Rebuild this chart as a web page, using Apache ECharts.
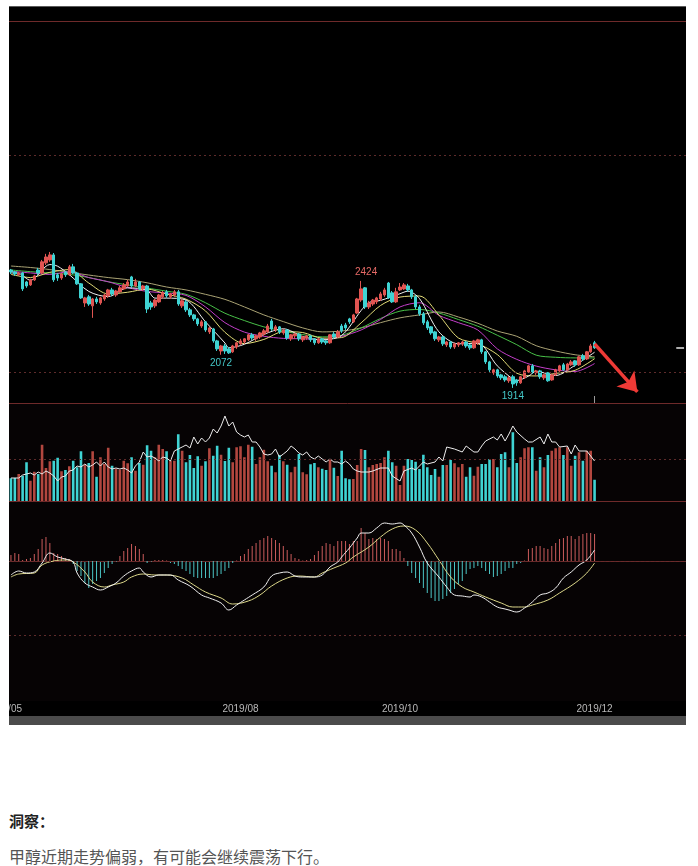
<!DOCTYPE html>
<html><head><meta charset="utf-8">
<script src="https://cdn.jsdelivr.net/npm/echarts/dist/echarts.min.js"></script>
<style>
html,body{margin:0;padding:0;background:#fff;width:698px;height:866px;overflow:hidden;}
#chart{position:absolute;left:9px;top:6px;width:677px;height:710px;background:#000;}
#gbar{position:absolute;left:9px;top:716px;width:677px;height:9px;background:#4b4b4b;}
.t1{position:absolute;left:9px;top:810px;font:bold 15px "Noto Sans CJK SC";color:#222;}
.t2{position:absolute;left:9px;top:844px;font:16px "Noto Sans CJK SC";color:#555;}
</style></head>
<body>
<div id="chart"></div>
<div id="gbar"></div>
<div class="t1">洞察：</div>
<div class="t2">甲醇近期走势偏弱，有可能会继续震荡下行。</div>
<script>
// ---------- data ----------
const slotCount = 174;
const categories = Array.from({length: slotCount}, (_, i) => String(i));
const xLabelIdx = [59, 100, 150];
const xLabelText = ['2019/08', '2019/10', '2019/12'];
const firstLabelText = '2019/05';

const opens = [2476,2467,2453,2462,2419,2405,2429,2476,2462,2510,2524,2548,2453,2438,2467,2453,2491,2462,2410,2319,
2348,2305,2338,2319,2338,2353,2381,2357,2372,2386,2400,2443,2400,2419,2386,2400,2319,2305,2324,2348,
2372,2348,2357,2372,2305,2324,2286,2262,2243,2209,2229,2181,2195,2138,2090,2114,2100,2086,2109,2124,
2133,2143,2167,2148,2157,2171,2181,2233,2190,2205,2176,2190,2148,2162,2171,2143,2152,2162,2148,2129,
2148,2138,2129,2171,2157,2209,2214,2243,2229,2271,2333,2391,2300,2314,2324,2338,2357,2414,2367,2324,
2381,2386,2400,2381,2348,2300,2267,2229,2205,2181,2143,2157,2119,2133,2109,2119,2124,2133,2119,2105,
2129,2143,2086,2038,1986,2000,1976,1967,1948,1967,1952,1938,1962,1990,2019,1986,1995,1962,1986,1952,
1976,1995,2024,2000,2024,2043,2024,2067,2052,2086,2129];
const closes = [2467,2457,2462,2386,2400,2429,2448,2462,2515,2538,2548,2429,2438,2457,2453,2491,2462,2410,2343,2343,
2314,2338,2324,2343,2357,2381,2362,2376,2391,2405,2419,2400,2419,2386,2400,2290,2300,2333,2357,2367,
2353,2362,2372,2314,2329,2286,2262,2243,2219,2229,2190,2200,2138,2100,2114,2090,2081,2114,2129,2138,
2148,2167,2152,2162,2176,2186,2209,2195,2205,2181,2190,2152,2167,2171,2148,2157,2162,2143,2129,2148,
2133,2129,2167,2157,2181,2186,2200,2229,2262,2338,2386,2300,2319,2333,2343,2362,2381,2343,2324,2372,
2395,2405,2381,2348,2300,2267,2224,2200,2176,2148,2157,2124,2133,2109,2124,2129,2133,2114,2105,2138,
2143,2086,2038,2000,2000,1971,1962,1952,1962,1933,1938,1967,1995,2019,1990,1995,1967,1976,1948,1976,
2000,2019,2000,2028,2038,2024,2062,2052,2086,2114,2105];
const lows = [2457,2448,2448,2376,2391,2400,2424,2453,2457,2500,2515,2419,2424,2429,2443,2448,2457,2405,2338,2300,
2305,2248,2314,2310,2329,2343,2353,2348,2367,2381,2395,2391,2395,2381,2376,2271,2286,2295,2319,2338,
2343,2338,2348,2305,2295,2276,2252,2233,2209,2200,2181,2171,2129,2090,2072,2076,2076,2081,2100,2119,
2124,2138,2143,2138,2148,2162,2176,2186,2181,2171,2167,2143,2138,2148,2138,2133,2143,2133,2119,2124,
2124,2119,2124,2148,2152,2176,2190,2219,2224,2267,2324,2290,2290,2305,2314,2329,2348,2338,2319,2319,
2376,2381,2372,2338,2290,2257,2214,2190,2167,2138,2133,2114,2109,2100,2100,2109,2114,2105,2095,2100,
2119,2076,2028,1990,1976,1962,1952,1943,1938,1914,1924,1933,1957,1986,1981,1976,1957,1952,1943,1948,
1971,1990,1995,1995,2019,2014,2019,2043,2047,2081,2100];
const highs = [2481,2472,2467,2467,2424,2434,2453,2486,2524,2553,2562,2557,2462,2462,2472,2500,2505,2467,2414,2348,
2357,2343,2348,2348,2362,2386,2391,2381,2400,2414,2429,2448,2434,2424,2405,2405,2329,2338,2362,2376,
2381,2367,2381,2381,2338,2333,2295,2267,2248,2238,2233,2205,2200,2143,2119,2124,2109,2119,2133,2148,
2152,2171,2176,2167,2181,2195,2219,2243,2214,2209,2195,2195,2171,2176,2176,2162,2167,2167,2152,2152,
2152,2143,2171,2181,2190,2219,2224,2248,2267,2343,2424,2395,2329,2338,2348,2372,2391,2419,2376,2391,
2414,2414,2410,2386,2357,2310,2276,2238,2209,2186,2162,2162,2138,2138,2129,2133,2138,2138,2124,2143,
2148,2148,2090,2043,2005,2005,1981,1976,1971,1976,1957,1971,2000,2024,2028,2000,2000,1981,1990,1981,
2005,2024,2033,2033,2047,2047,2067,2076,2090,2124,2138];
const volumes = [91,92,108,101,155,81,117,108,225,132,159,161,173,119,124,139,161,135,199,145,
152,199,97,175,148,213,141,128,125,161,151,175,121,152,145,223,201,175,225,208,
199,161,161,267,201,155,184,132,179,141,159,211,181,221,185,160,213,155,215,219,
175,225,217,148,175,205,159,141,115,184,159,145,115,137,188,115,107,147,152,135,
129,124,168,133,100,201,91,87,88,144,208,204,135,144,148,152,175,201,155,141,
64,141,168,164,157,128,185,135,104,128,97,144,144,164,151,135,148,97,135,101,
137,148,148,168,168,135,188,195,135,275,152,175,211,215,215,121,175,135,184,201,
211,215,184,215,141,181,195,161,201,201,85];
const openInterest = [[0,61.5],[2,61.5],[3,63],[4,63.5],[5,64],[6,63],[7,64.5],[8,63.5],[9,65],[10,64],[11,62.5],[12,60],[13,62],[14,62.5],[15,65],[16,65.5],[17,67.5],[18,67],[19,68.5],[20,67],[21,68],[22,69.5],[23,67.5],[24,69.5],[25,67],[26,66],[27,66.5],[28,66],[29,66.5],[30,65.5],[31,64],[32,67.5],[33,69.5],[34,74.5],[35,72],[36,72.5],[37,71.5],[38,70],[39,72],[40,71.5],[41,70],[42,75],[43,76],[44,77],[45,78],[46,76.5],[47,82],[48,78.5],[49,81.5],[50,79.5],[51,81.5],[52,86],[53,84],[54,87.5],[55,92.5],[56,87.5],[57,89.5],[58,84.5],[59,83],[60,82],[61,83],[62,79.5],[63,79.5],[64,77],[65,73.5],[66,73],[67,73.5],[68,76],[69,72],[70,73.5],[71,75],[72,77.5],[73,76],[74,74],[75,73],[76,74.5],[77,72],[78,71],[79,72.5],[80,71],[81,69.5],[82,71],[83,69.5],[84,69.5],[85,68.5],[86,70],[87,68.5],[88,66],[89,65],[90,64.5],[92,64.5],[93,65],[95,66.5],[97,66.5],[98,62.5],[100,60],[101,65],[103,66.5],[104,65.5],[106,69.5],[107,68.5],[109,69.5],[110,72],[111,70],[112,77],[114,76],[116,74.5],[117,77.5],[119,74.5],[120,74.5],[121,77.5],[122,80],[124,82],[125,80.5],[126,83.5],[127,80],[128,83.5],[129,87.5],[130,84.5],[132,81],[133,79.5],[134,79.5],[136,82],[137,78.5],[138,83.5],[139,79.5],[140,79.5],[141,77],[143,77.5],[144,73.5],[145,78],[146,75],[148,75],[149,72.5],[150,70]];

const ma5 = [[0,2462],[2,2460],[5,2427],[10,2502],[12,2494],[15,2454],[20,2374],[25,2349],[30,2391],[35,2379],[37,2342],[40,2342],[45,2333],[50,2229],[55,2128],[56,2105],[60,2122],[65,2169],[70,2196],[75,2159],[80,2143],[85,2164],[90,2283],[92,2321],[95,2331],[100,2363],[102,2375],[105,2340],[110,2181],[115,2124],[120,2127],[125,2019],[129,1956],[130,1949],[133,1970],[135,1993],[140,1973],[145,2022],[150,2084]];
const ma10 = [[0,2455],[5,2440],[10,2465],[15,2478],[20,2414],[25,2362],[30,2370],[35,2385],[40,2361],[45,2337],[50,2281],[55,2179],[60,2125],[65,2145],[70,2182],[75,2178],[80,2151],[85,2154],[90,2224],[95,2307],[100,2347],[105,2352],[110,2261],[115,2152],[120,2125],[125,2073],[130,1984],[135,1971],[140,1983],[145,1998],[150,2053]];
const ma20 = [[0,2470],[5,2462],[10,2455],[15,2468],[20,2440],[25,2420],[30,2392],[35,2374],[40,2366],[45,2355],[50,2300],[55,2225],[60,2180],[65,2160],[70,2150],[75,2148],[80,2143],[85,2160],[90,2190],[95,2240],[100,2300],[105,2320],[110,2260],[115,2225],[120,2190],[125,2100],[130,2050],[135,2018],[140,2000],[145,1992],[150,2030]];
const ma40 = [[0,2476],[5,2468],[10,2462],[15,2455],[20,2440],[25,2420],[30,2405],[35,2390],[40,2375],[45,2360],[50,2320],[55,2270],[60,2235],[65,2205],[70,2185],[75,2168],[80,2157],[85,2165],[90,2200],[95,2245],[100,2280],[105,2288],[110,2271],[115,2240],[120,2208],[125,2165],[130,2120],[135,2070],[140,2060],[145,2057],[150,2057]];
const ma60 = [[0,2495],[5,2488],[10,2478],[15,2465],[20,2452],[25,2440],[30,2430],[35,2415],[40,2395],[45,2381],[50,2360],[55,2336],[60,2300],[65,2262],[70,2230],[75,2200],[80,2181],[85,2185],[90,2200],[95,2225],[100,2248],[105,2262],[110,2276],[115,2252],[120,2222],[125,2185],[130,2160],[135,2115],[140,2090],[145,2072],[150,2062]];

const macdHist = [6,8,7,1,2,3,7,12,22,24,18,8,7,5,3,2,-3,-10,-15,-22,
-27,-23,-20,-17,-12,-7,-3,-1,5,10,13,17,15,12,7,-2,-1,1,1,1,
0.5,-2,-3,-5,-8,-10,-13,-16,-17,-17,-17,-17,-17,-15,-13,-10,-7,-2,0.5,5,
7,12,15,18,21,23,25,23,21,18,15,11,7,3,2,0.5,1,2,6,10,
15,18,17,15,20,20,20,17,20,20,33,28,22,23,22,23,22,20,12,12,
10,3,-5,-12,-17,-22,-27,-32,-37,-40,-40,-38,-35,-32,-28,-23,-20,-13,-8,-7,
-5,-7,-10,-13,-16,-15,-13,-10,-7,-7,-3,-2,0.5,12,13,15,15,13,12,15,
18,22,23,25,25,22,25,27,28,28,27];
const dif = [[0,-14],[2,-10],[4,-12],[6,-11],[8,-2],[10,8],[12,4],[14,2],[16,-1],[17,-12],[19,-22],[21,-26],[23,-29],[25,-26],[27,-22],[29,-15],[31,-10],[33,-7],[34,-11],[36,-16],[38,-14],[41,-14],[43,-19],[46,-25],[49,-34],[51,-37],[54,-42],[56,-49],[58,-44],[60,-39],[62,-34],[65,-26],[67,-15],[69,-12],[71,-11],[73,-15],[75,-16],[78,-16],[80,-14],[82,-6],[84,-1],[85,4],[87,13],[89,23],[90,28],[92,28],[94,33],[96,38],[98,37],[100,38],[101,36],[103,28],[105,14],[107,-2],[110,-16],[112,-26],[114,-34],[116,-35],[118,-36],[119,-34],[121,-36],[123,-41],[125,-46],[127,-48],[128,-49],[130,-51],[132,-47],[134,-41],[136,-34],[138,-32],[140,-27],[142,-17],[144,-11],[146,-4],[148,1],[150,11]];
const dea = [[0,-16],[2,-13],[6,-12],[8,-4],[11,0],[14,1],[16,-1],[19,-11],[21,-21],[24,-26],[26,-24],[29,-21],[31,-16],[34,-13],[37,-14],[40,-14],[44,-17],[47,-24],[50,-31],[54,-37],[57,-43],[61,-40],[64,-34],[67,-25],[71,-17],[74,-15],[78,-16],[80,-12],[83,-7],[86,-2],[88,4],[92,14],[95,24],[98,32],[101,35],[104,31],[107,18],[110,1],[113,-16],[116,-26],[119,-31],[122,-36],[126,-42],[129,-46],[132,-46],[134,-44],[138,-39],[141,-32],[145,-22],[148,-12],[150,-2]];

const extremeLabels = [[90, 2424, 'high'], [54, 2072, 'low'], [129, 1914, 'low']];
const priceGridLevels = [3024, 1990];
const volGridLevels = [168];
const macdGridLevels = [0, -74];
const arrowFrom = [150, 2124];
const arrowTo = [161, 1895];
const tickMarkIdx = 150;

// ---------- styles ----------
const RED = '#e05552', CYAN = '#3fd3d3';
const SEP = '#6e2a2a', DOT = '#5e2b2b';
const lastClose = closes[closes.length - 1];

const kData = opens.map((o, i) => [o, closes[i], lows[i], highs[i]]);
const volData = volumes.map((v, i) => ({value: v, itemStyle: {color: closes[i] >= opens[i] ? '#b2473f' : CYAN}}));
const histData = macdHist.map(v => ({value: v, itemStyle: {color: v >= 0 ? '#cc5c5c' : '#4cc6c6'}}));

function dotted(levels) {
  return {silent: true, symbol: ['none', 'none'], label: {show: false}, animation: false,
    lineStyle: {color: DOT, type: [2, 3], width: 1}, emphasis: {disabled: true},
    data: levels.map(v => ({yAxis: v}))};
}
function xAx(grid, bottomLine, showLabels, showTick) {
  return {type: 'category', gridIndex: grid, data: categories, boundaryGap: true,
    axisLine: {show: bottomLine, lineStyle: {color: SEP, width: 1}},
    axisTick: {show: showTick, inside: true, length: 7, alignWithLabel: true,
      interval: (i) => i === tickMarkIdx, lineStyle: {color: '#9a9a9a'}},
    axisLabel: showLabels ? {show: true, interval: (i) => xLabelIdx.includes(i),
      formatter: (v, i) => xLabelText[xLabelIdx.indexOf(Number(v))] || '',
      color: '#b8b8b8', fontSize: 10, fontFamily: 'Liberation Sans', margin: 3} : {show: false},
    splitLine: {show: false}};
}
function line(data, color, xi, yi, smooth) {
  return {type: 'line', xAxisIndex: xi, yAxisIndex: yi, data: data, showSymbol: false, symbol: 'none',
    smooth: smooth, connectNulls: true, lineStyle: {color: color, width: 1}, silent: true, z: 3};
}

const chart = echarts.init(document.getElementById('chart'), null, {renderer: 'canvas'});
chart.setOption({
  animation: false,
  backgroundColor: '#000',
  grid: [
    {left: 0, right: 0, top: 15, height: 382, outerBoundsMode: 'none', containLabel: false},
    {left: 0, right: 0, top: 398, height: 97, show: true, backgroundColor: '#060304', borderWidth: 0, outerBoundsMode: 'none', containLabel: false},
    {left: 0, right: 0, top: 496, height: 199, show: true, backgroundColor: '#060304', borderWidth: 0, outerBoundsMode: 'none', containLabel: false}
  ],
  xAxis: [xAx(0, true, false, true), xAx(1, true, false, false), xAx(2, true, true, true)],
  yAxis: [
    {type: 'value', gridIndex: 0, min: 1842, max: 3663, show: false},
    {type: 'value', gridIndex: 1, min: 0, max: 388, show: false},
    {type: 'value', gridIndex: 1, min: 50, max: 98.5, show: false},
    {type: 'value', gridIndex: 2, min: -140, max: 59, show: false}
  ],
  graphic: [
    {type: 'rect', shape: {x: 0, y: 0, width: 677, height: 1}, style: {fill: '#5a5a5a'}, silent: true},
    {type: 'rect', shape: {x: 0, y: 15, width: 677, height: 1}, style: {fill: SEP}, silent: true},
    {type: 'text', x: 13, y: 703, silent: true,
      style: {text: firstLabelText, align: 'right', verticalAlign: 'middle', fill: '#b8b8b8', font: '10px "Liberation Sans"'}}
  ],
  series: [
    {type: 'candlestick', xAxisIndex: 0, yAxisIndex: 0, data: kData, barWidth: 3, silent: true, z: 4,
      itemStyle: {color: RED, color0: CYAN, borderColor: RED, borderColor0: CYAN, borderWidth: 1},
      markLine: dotted(priceGridLevels),
      markPoint: {symbol: 'rect', symbolSize: 1, silent: true, itemStyle: {color: 'rgba(0,0,0,0)'},
        data: extremeLabels.map(e => ({coord: [e[0], e[1]], value: e[1],
          label: {show: true, formatter: String(e[1]), fontSize: 10, fontFamily: 'Liberation Sans',
            color: e[2] === 'high' ? '#e66a66' : '#44c8c8',
            position: e[2] === 'high' ? 'top' : 'bottom', distance: 3, offset: e[2] === 'high' ? [5, 0] : [0, 0]}}))}
    },
    line(ma60, '#aaa374', 0, 0, 0.3),
    line(ma40, '#48c048', 0, 0, 0.3),
    line(ma20, '#c33ec9', 0, 0, 0.3),
    line(ma10, '#e3dc78', 0, 0, 0.3),
    line(ma5, '#f2f2f2', 0, 0, 0.3),
    {type: 'lines', coordinateSystem: 'cartesian2d', xAxisIndex: 0, yAxisIndex: 0, silent: true, z: 6,
      symbol: ['none', 'arrow'], symbolSize: [16, 18],
      lineStyle: {color: '#ee3a36', width: 3.5, opacity: 1, curveness: 0},
      data: [{coords: [arrowFrom, arrowTo]}]},
    {type: 'lines', coordinateSystem: 'cartesian2d', xAxisIndex: 0, yAxisIndex: 0, silent: true, z: 6,
      symbol: ['none', 'none'], lineStyle: {color: '#e8e8e8', width: 1.5, opacity: 1},
      data: [{coords: [[171, lastClose], [173, lastClose]]}]},
    {type: 'bar', xAxisIndex: 1, yAxisIndex: 1, data: volData, barWidth: 2.6, silent: true,
      markLine: dotted(volGridLevels)},
    line(openInterest, '#ececec', 1, 2, false),
    {type: 'bar', xAxisIndex: 2, yAxisIndex: 3, data: histData, barWidth: 1, silent: true,
      markLine: dotted(macdGridLevels)},
    line(dea, '#dcd88a', 2, 3, 0.4),
    line(dif, '#f0f0f0', 2, 3, 0.4)
  ]
});
</script>
</body></html>
